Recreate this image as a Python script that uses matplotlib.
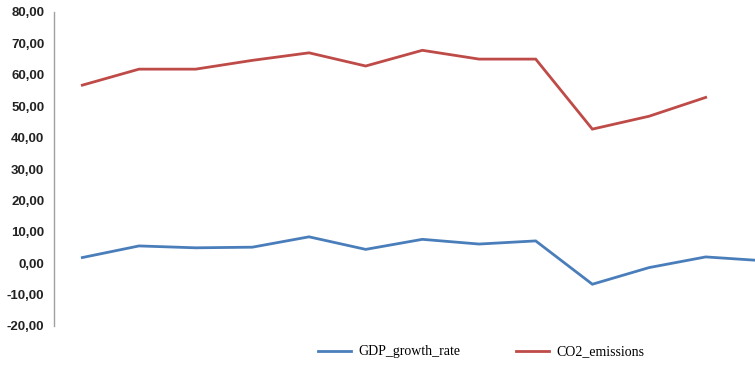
import numpy as np
import matplotlib.pyplot as plt
from matplotlib.ticker import FuncFormatter

# yearly observations (category positions, no x labels shown)
gdp_growth_rate = [1.8, 5.5, 4.9, 5.1, 8.4, 4.4, 7.6, 6.1, 7.1, -6.7, -1.4, 2.0, 0.8]
co2_emissions = [56.7, 61.8, 61.8, 64.6, 67.0, 62.8, 67.8, 65.0, 65.0, 42.7, 46.8, 52.8]
y_ticks = [-20, -10, 0, 10, 20, 30, 40, 50, 60, 70, 80]

fig = plt.figure(figsize=(7.55, 3.65), dpi=100)
ax = fig.add_axes([54 / 755, 39 / 365, 1 - 54 / 755, 314 / 365])

ax.plot(np.arange(len(gdp_growth_rate)), gdp_growth_rate, color='#4A7EBB',
        lw=2.0, label='GDP_growth_rate', solid_joinstyle='miter')
ax.plot(np.arange(len(co2_emissions)), co2_emissions, color='#BE4B48',
        lw=2.0, label='CO2_emissions', solid_joinstyle='miter')

ax.set_xlim(-0.5, 11.87)
ax.set_ylim(-20, 80)
ax.set_yticks(y_ticks)
ax.yaxis.set_major_formatter(FuncFormatter(lambda v, p: f'{v:.2f}'.replace('.', ',')))
ax.set_xticks([])
ax.tick_params(axis='y', length=0, pad=7, labelsize=9.5, labelcolor='#222222')
for lbl in ax.get_yticklabels():
    lbl.set_fontweight('bold')
    lbl.set_fontfamily('Liberation Sans')

for side in ['top', 'right', 'bottom']:
    ax.spines[side].set_visible(False)
ax.spines['left'].set_color('#A0A0A0')
ax.spines['left'].set_linewidth(1.0)

fig.legend(loc='center', bbox_to_anchor=(481 / 755, 1 - 352 / 365), ncol=2,
           frameon=False, handlelength=2.4, handletextpad=0.5, columnspacing=4.0,
           prop={'family': 'Liberation Serif', 'size': 10})

fig.savefig('out.png', dpi=100)
